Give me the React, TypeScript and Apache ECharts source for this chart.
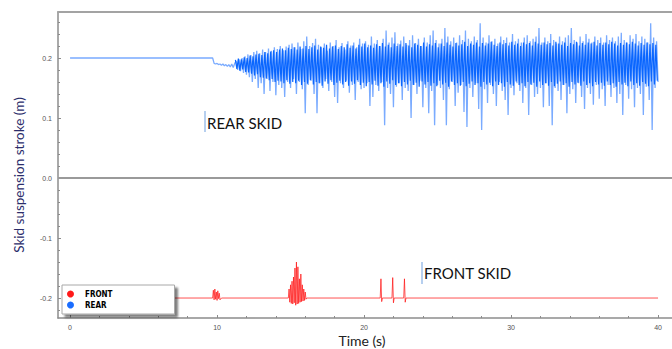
import React, { useEffect, useRef } from "react";
import * as echarts from "echarts";

// ---- axis ticks ----
const xMajorTicks = [0, 10, 20, 30, 40];
const xMinorTicks = [2, 4, 6, 8, 12, 14, 16, 18, 22, 24, 26, 28, 32, 34, 36, 38];
const yMajorTicks = [-0.2, -0.1, 0, 0.1, 0.2];
const yMinorTicks = [-0.22, -0.18, -0.16, -0.14, -0.12, -0.08, -0.06, -0.04, -0.02, 0.02, 0.04, 0.06, 0.08, 0.12, 0.14, 0.16, 0.18, 0.22, 0.24, 0.26];

// ---- REAR skid (m): full excursions ----
const rearStaticTime = [0, 9.7];
const rearStaticStroke = [0.2, 0.2];
const rearSampleStart = 9.8; // s
const rearSampleStep = 0.1; // s
const rearStroke = [
  0.191, 0.190, 0.191, 0.189, 0.190, 0.188, 0.190, 0.187, 0.189, 0.186, 0.189, 0.185, 0.190, 0.184, 0.191,
  0.195, 0.180, 0.198, 0.178, 0.200, 0.175, 0.203, 0.172, 0.206, 0.168, 0.205, 0.160, 0.210, 0.165, 0.212, 0.150, 0.208,
  0.158, 0.214, 0.140, 0.210, 0.165, 0.216, 0.145, 0.212, 0.160, 0.218, 0.138, 0.215, 0.155, 0.220, 0.150, 0.213, 0.135, 0.219, 0.160, 0.222,
  0.150, 0.224, 0.165, 0.218, 0.140, 0.226, 0.160, 0.215, 0.148, 0.228, 0.108, 0.236, 0.155, 0.220, 0.162, 0.225, 0.140, 0.232, 0.108, 0.222,
  0.158, 0.218, 0.150, 0.224, 0.165, 0.212, 0.145, 0.226, 0.160, 0.220, 0.135, 0.230, 0.125, 0.218, 0.158, 0.225, 0.150, 0.214, 0.162, 0.228,
  0.142, 0.221, 0.155, 0.226, 0.130, 0.218, 0.160, 0.232, 0.148, 0.224,
  0.150, 0.228, 0.158, 0.222, 0.120, 0.236, 0.135, 0.224, 0.155, 0.230, 0.145, 0.220, 0.160, 0.232, 0.088, 0.246, 0.150, 0.226, 0.140, 0.234,
  0.118, 0.243, 0.152, 0.224, 0.158, 0.229, 0.130, 0.236, 0.150, 0.222, 0.145, 0.230, 0.100, 0.238, 0.155, 0.225, 0.140, 0.232, 0.162, 0.220,
  0.118, 0.234, 0.150, 0.226, 0.108, 0.238, 0.145, 0.246, 0.088, 0.230, 0.155, 0.224,
  0.150, 0.232, 0.130, 0.250, 0.088, 0.236, 0.148, 0.228, 0.160, 0.234, 0.120, 0.226, 0.142, 0.238, 0.155, 0.230, 0.110, 0.246, 0.085, 0.232,
  0.150, 0.228, 0.135, 0.236, 0.158, 0.230, 0.115, 0.258, 0.080, 0.234, 0.148, 0.226, 0.125, 0.238, 0.155, 0.228, 0.140, 0.232, 0.120, 0.224,
  0.160, 0.236, 0.145, 0.230, 0.130, 0.234, 0.105, 0.226, 0.150, 0.240, 0.138, 0.228, 0.158, 0.232,
  0.145, 0.226, 0.125, 0.234, 0.150, 0.238, 0.105, 0.228, 0.155, 0.232, 0.135, 0.236, 0.140, 0.250, 0.150, 0.226, 0.118, 0.234, 0.158, 0.228,
  0.120, 0.240, 0.088, 0.230, 0.150, 0.224, 0.145, 0.236, 0.130, 0.228, 0.155, 0.234, 0.108, 0.238, 0.140, 0.250, 0.148, 0.230, 0.125, 0.226,
  0.158, 0.236, 0.135, 0.228, 0.115, 0.240, 0.150, 0.232, 0.140, 0.226, 0.122, 0.236, 0.155, 0.230, 0.132, 0.234,
  0.148, 0.226, 0.120, 0.238, 0.155, 0.230, 0.135, 0.234, 0.150, 0.228, 0.125, 0.236, 0.140, 0.242, 0.105, 0.230, 0.155, 0.226, 0.132, 0.238,
  0.148, 0.232, 0.118, 0.240, 0.150, 0.228, 0.140, 0.236, 0.105, 0.232, 0.152, 0.226, 0.130, 0.258, 0.080, 0.234, 0.150, 0.228, 0.160,
];

// ---- REAR skid (m): dense core band, sampled between the samples above ----
const rearCoreStart = 11.25; // s
const rearCoreStep = 0.1; // s
const rearCoreStroke = [
  0.197, 0.182, 0.199, 0.179, 0.198, 0.181, 0.201, 0.177, 0.200, 0.176,
  0.204, 0.174, 0.203, 0.171, 0.206, 0.173, 0.207, 0.168, 0.205, 0.167,
  0.210, 0.166, 0.208, 0.163, 0.211, 0.165, 0.213, 0.160, 0.210, 0.162,
  0.214, 0.161, 0.216, 0.158, 0.213, 0.163, 0.217, 0.157, 0.215, 0.160,
  0.218, 0.158, 0.214, 0.162, 0.219, 0.155, 0.216, 0.160, 0.220, 0.157,
  0.215, 0.163, 0.218, 0.156, 0.221, 0.160, 0.214, 0.158, 0.219, 0.154,
  0.217, 0.161, 0.222, 0.157, 0.216, 0.163, 0.219, 0.155, 0.221, 0.159,
  0.215, 0.162, 0.220, 0.156, 0.218, 0.160, 0.223, 0.154, 0.217, 0.161,
  0.221, 0.157, 0.216, 0.163, 0.222, 0.155, 0.219, 0.159, 0.224, 0.153,
  0.218, 0.160, 0.221, 0.156, 0.217, 0.162, 0.223, 0.154, 0.220, 0.158,
  0.225, 0.152, 0.219, 0.161, 0.222, 0.157, 0.218, 0.163, 0.224, 0.155,
  0.220, 0.158, 0.223, 0.153, 0.219, 0.160, 0.225, 0.156, 0.221, 0.162,
  0.218, 0.155, 0.224, 0.159, 0.222, 0.152, 0.220, 0.161, 0.226, 0.156,
  0.219, 0.160, 0.223, 0.154, 0.221, 0.158, 0.225, 0.153, 0.218, 0.162,
  0.224, 0.156, 0.220, 0.159, 0.226, 0.152, 0.222, 0.161, 0.219, 0.155,
  0.225, 0.158, 0.221, 0.154, 0.223, 0.160, 0.227, 0.153, 0.220, 0.157,
  0.224, 0.161, 0.222, 0.155, 0.226, 0.158, 0.219, 0.152, 0.225, 0.160,
  0.221, 0.156, 0.224, 0.159, 0.227, 0.153, 0.222, 0.161, 0.220, 0.155,
  0.226, 0.158, 0.223, 0.152, 0.225, 0.160, 0.221, 0.156, 0.227, 0.154,
  0.222, 0.161, 0.224, 0.155, 0.220, 0.158, 0.226, 0.153, 0.223, 0.160,
  0.225, 0.156, 0.221, 0.159, 0.227, 0.152, 0.224, 0.161, 0.222, 0.155,
  0.226, 0.158, 0.223, 0.154, 0.225, 0.160, 0.221, 0.153, 0.227, 0.157,
  0.224, 0.161, 0.222, 0.155, 0.226, 0.158, 0.220, 0.152, 0.225, 0.160,
  0.223, 0.156, 0.227, 0.159, 0.221, 0.154, 0.225, 0.161, 0.222, 0.155,
  0.226, 0.158, 0.224, 0.153, 0.227, 0.160, 0.221, 0.156, 0.225, 0.159,
  0.222, 0.154, 0.226, 0.161, 0.223, 0.155, 0.227, 0.158, 0.224, 0.152,
  0.221, 0.160, 0.225, 0.156, 0.222, 0.159, 0.226, 0.153, 0.223, 0.161,
  0.227, 0.155, 0.224, 0.158, 0.221, 0.154, 0.225, 0.160, 0.222, 0.157,
  0.226, 0.153, 0.223, 0.161, 0.225, 0.156, 0.222, 0.162,
];

// ---- FRONT skid (m) ----
const frontTime = [
  0, 9.7, 9.75, 9.8, 9.85, 9.9, 9.95, 10.0, 10.05, 10.1, 10.15, 10.2, 10.3,
  14.85, 14.9, 14.95, 15.0, 15.05, 15.1, 15.15, 15.2, 15.25, 15.3, 15.35, 15.4, 15.45, 15.5, 15.55, 15.6, 15.65, 15.7, 15.75, 15.8, 15.85, 15.9, 15.95, 16.0, 16.05, 16.1,
  21.1, 21.15, 21.2, 21.25, 21.9, 21.95, 22.0, 22.05, 22.7, 22.75, 22.8, 22.85, 40.0,
];
const frontStroke = [
  -0.2, -0.2, -0.187, -0.203, -0.185, -0.202, -0.19, -0.204, -0.188, -0.201, -0.192, -0.203, -0.2,
  -0.2, -0.185, -0.207, -0.178, -0.209, -0.172, -0.21, -0.165, -0.208, -0.15, -0.212, -0.14, -0.21, -0.148, -0.209, -0.168, -0.207, -0.16, -0.206, -0.178, -0.205, -0.185, -0.204, -0.19, -0.202, -0.2,
  -0.2, -0.168, -0.206, -0.2, -0.2, -0.166, -0.208, -0.2, -0.2, -0.168, -0.207, -0.2, -0.2,
];

const X_MIN = -0.82;
const X_MAX = 40.95;
const Y_MIN = -0.2333;
const Y_MAX = 0.2767;

export default function App() {
  const ref = useRef<HTMLDivElement>(null);

  useEffect(() => {
    if (!ref.current) return;
    const chart = echarts.init(ref.current, null, { renderer: "svg" });

    const rearData: number[][] = rearStaticTime.map((t, i) => [t, rearStaticStroke[i]]);
    rearStroke.forEach((v, i) => {
      rearData.push([+(rearSampleStart + i * rearSampleStep).toFixed(2), v]);
    });
    const rearCoreData = rearCoreStroke.map((v, i) => [+(rearCoreStart + i * rearCoreStep).toFixed(2), v]);
    const frontData = frontTime.map((t, i) => [t, frontStroke[i]]);

    const axisGray = "#8c8c8c";
    const tickFont = { fontSize: 7, color: "#555", fontFamily: "Liberation Sans" };

    chart.setOption({
      animation: false,
      grid: { left: 58, right: 0, top: 12, bottom: 31 },
      legend: {
        data: [
          { name: "FRONT", itemStyle: { color: "#ff1a1a" } },
          { name: "REAR", itemStyle: { color: "#1a6dff" } },
        ],
        orient: "vertical",
        left: 62,
        top: 285,
        icon: "circle",
        itemWidth: 7,
        itemHeight: 7,
        itemGap: 3,
        padding: [5, 62, 5, 5],
        backgroundColor: "#fff",
        borderColor: "#a8a8a8",
        borderWidth: 1,
        shadowColor: "rgba(0,0,0,0.5)",
        shadowBlur: 2,
        shadowOffsetX: 3,
        shadowOffsetY: 3,
        selectedMode: false,
        textStyle: {
          fontFamily: "DejaVu Sans Condensed",
          fontWeight: "bold",
          fontSize: 8,
          lineHeight: 8,
          color: "#000",
          width: 20,
          padding: [0, 0, 0, 6],
        },
      },
      xAxis: [
        {
          type: "value",
          position: "bottom",
          min: X_MIN,
          max: X_MAX,
          axisLine: { show: true, onZero: false, lineStyle: { color: axisGray, width: 1.5 } },
          axisTick: { show: true, inside: true, length: 3, customValues: xMajorTicks, lineStyle: { color: axisGray } },
          axisLabel: { show: true, customValues: xMajorTicks, margin: 6, ...tickFont, formatter: (v: number) => String(v) },
          splitLine: { show: false },
        },
        {
          type: "value",
          position: "bottom",
          min: X_MIN,
          max: X_MAX,
          axisLine: { show: false, onZero: false },
          axisTick: { show: true, inside: true, length: 2, customValues: xMinorTicks, lineStyle: { color: axisGray } },
          axisLabel: { show: false },
          splitLine: { show: false },
        },
        {
          type: "value",
          position: "top",
          min: X_MIN,
          max: X_MAX,
          axisLine: { show: true, onZero: false, lineStyle: { color: "#a3a3a3", width: 2 } },
          axisTick: { show: false },
          axisLabel: { show: false },
          splitLine: { show: false },
        },
      ],
      yAxis: [
        {
          type: "value",
          position: "left",
          min: Y_MIN,
          max: Y_MAX,
          axisLine: { show: true, onZero: false, lineStyle: { color: axisGray, width: 1.5 } },
          axisTick: { show: true, inside: true, length: 3, customValues: yMajorTicks, lineStyle: { color: axisGray } },
          axisLabel: { show: true, customValues: yMajorTicks, margin: 6, ...tickFont, formatter: (v: number) => v.toFixed(1) },
          splitLine: { show: false },
        },
        {
          type: "value",
          position: "left",
          min: Y_MIN,
          max: Y_MAX,
          axisLine: { show: false, onZero: false },
          axisTick: { show: true, inside: true, length: 2, customValues: yMinorTicks, lineStyle: { color: axisGray } },
          axisLabel: { show: false },
          splitLine: { show: false },
        },
      ],
      series: [
        {
          name: "REAR",
          type: "line",
          xAxisIndex: 0,
          yAxisIndex: 0,
          data: rearData,
          symbol: "none",
          showSymbol: false,
          color: "#1a6dff",
          lineStyle: { width: 1.3, color: "#7aabff" },
          z: 3,
          markLine: {
            silent: true,
            symbol: "none",
            label: { show: false },
            lineStyle: { color: "#9a9a9a", width: 2, type: "solid", opacity: 1 },
            data: [{ yAxis: 0 }],
          },
        },
        {
          name: "REAR",
          type: "line",
          xAxisIndex: 0,
          yAxisIndex: 0,
          data: rearCoreData,
          symbol: "none",
          showSymbol: false,
          color: "#1a6dff",
          lineStyle: { width: 1.2, color: "#0a66ff" },
          z: 4,
        },
        {
          name: "FRONT",
          type: "line",
          xAxisIndex: 0,
          yAxisIndex: 0,
          data: frontData,
          symbol: "none",
          showSymbol: false,
          color: "#ff1a1a",
          lineStyle: { width: 1, color: "#ff1a1a", opacity: 0.75 },
          z: 2,
        },
      ],
      graphic: [
        { type: "rect", shape: { x: 204.5, y: 111, width: 1, height: 21 }, style: { fill: "#6f9fe0" }, z: 10 },
        {
          type: "text",
          x: 207,
          y: 122.5,
          z: 10,
          style: { text: "REAR SKID", font: "15px Lato", fill: "#111", verticalAlign: "middle", align: "left" },
        },
        { type: "rect", shape: { x: 421.5, y: 262, width: 1, height: 22 }, style: { fill: "#6f9fe0" }, z: 10 },
        {
          type: "text",
          x: 424,
          y: 273,
          z: 10,
          style: { text: "FRONT SKID", font: "15px Lato", fill: "#111", verticalAlign: "middle", align: "left" },
        },
        {
          type: "text",
          x: 362,
          y: 340,
          z: 10,
          style: { text: "Time (s)", font: "14px Lato", fill: "#222", verticalAlign: "middle", align: "center" },
        },
        {
          type: "text",
          x: 19,
          y: 175,
          rotation: Math.PI / 2,
          z: 10,
          style: { text: "Skid suspension stroke (m)", font: "13.5px Lato", fill: "#2b2d6b", verticalAlign: "middle", align: "center" },
        },
      ],
    });

    return () => chart.dispose();
  }, []);

  return <div ref={ref} style={{ position: "absolute", left: 0, top: 0, width: 672, height: 349 }} />;
}
